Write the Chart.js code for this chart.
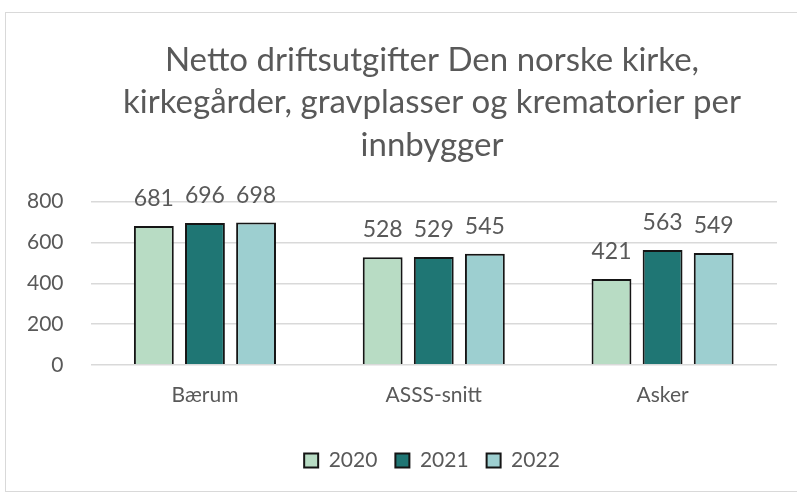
<!DOCTYPE html>
<html>
<head>
<meta charset="utf-8">
<script src="https://cdn.jsdelivr.net/npm/chart.js@4"></script>
<style>
  html, body { margin: 0; padding: 0; background: #fff; overflow: hidden; }
  #wrap { position: absolute; left: 0; top: 0; width: 797px; height: 494px; overflow: hidden; }
  #frame { position: absolute; left: 5px; top: 12px; width: 860px; height: 480px;
           border: 1px solid #d9d9d9; box-sizing: border-box; }
  canvas { position: absolute; left: 0; top: 0; }
</style>
</head>
<body>
<div id="wrap">
  <div id="frame"></div>
  <canvas id="chart" width="864" height="494"></canvas>
</div>
<script>
const categories = ['Bærum', 'ASSS-snitt', 'Asker'];
const years = ['2020', '2021', '2022'];
const values2020 = [681, 528, 421];
const values2021 = [696, 529, 563];
const values2022 = [698, 545, 549];
const yTicks = [0, 200, 400, 600, 800];

const colors = ['#b8dcc4', '#1f7674', '#9dcfd0'];
const textColor = '#595959';
const fontFamily = 'Lato, "Open Sans", sans-serif';

// draws the value above every bar
const valueLabels = {
    id: 'valueLabels',
    afterDatasetsDraw(chart) {
        const c = chart.ctx;
        c.save();
        c.font = '23px ' + fontFamily;
        c.fillStyle = textColor;
        c.textAlign = 'center';
        c.textBaseline = 'alphabetic';
        chart.data.datasets.forEach((ds, i) => {
            chart.getDatasetMeta(i).data.forEach((bar, j) => {
                c.fillText(ds.data[j], bar.x, bar.y - 20);
            });
        });
        c.restore();
    }
};

const ctx = document.getElementById('chart');

const chart = new Chart(ctx, {
    type: 'bar',
    data: {
        labels: categories,
        datasets: [values2020, values2021, values2022].map((d, i) => ({
            label: years[i],
            data: d,
            backgroundColor: colors[i],
            borderColor: '#151515',
            borderWidth: 2,
            categoryPercentage: 0.67,
            barPercentage: 0.78,
        }))
    },
    options: {
        responsive: false,
        animation: false,
        layout: { padding: { left: 0, right: 0, top: 39, bottom: 13 } },
        scales: {
            x: {
                grid: { display: false },
                border: { display: false },
                ticks: { color: textColor, font: { family: fontFamily, size: 21 }, padding: 10 },
                afterFit: (axis) => { axis.height += 14; }
            },
            y: {
                min: 0,
                max: 800,
                afterBuildTicks: (axis) => { axis.ticks = yTicks.map(v => ({ value: v })); },
                grid: { color: '#d9d9d9', lineWidth: 1.5, drawTicks: false },
                border: { display: false },
                ticks: { color: textColor, font: { family: fontFamily, size: 21 }, padding: 27 }
            },
            // empty space on the right side of the plot
            yRight: {
                position: 'right',
                grid: { display: false },
                border: { display: false },
                ticks: { display: false },
                afterFit: (axis) => { axis.width = 87; }
            }
        },
        plugins: {
            title: {
                display: true,
                text: ['Netto driftsutgifter Den norske kirke,',
                       'kirkegårder, gravplasser og krematorier per',
                       'innbygger'],
                color: textColor,
                font: { family: fontFamily, size: 33, weight: 'normal', lineHeight: 1.29 },
                padding: { top: 0, bottom: 35 }
            },
            legend: {
                position: 'bottom',
                labels: {
                    color: textColor,
                    font: { family: fontFamily, size: 21 },
                    boxWidth: 14,
                    boxHeight: 14,
                    padding: 18
                }
            },
            tooltip: { enabled: false }
        }
    },
    plugins: [valueLabels]
});
</script>
</body>
</html>
